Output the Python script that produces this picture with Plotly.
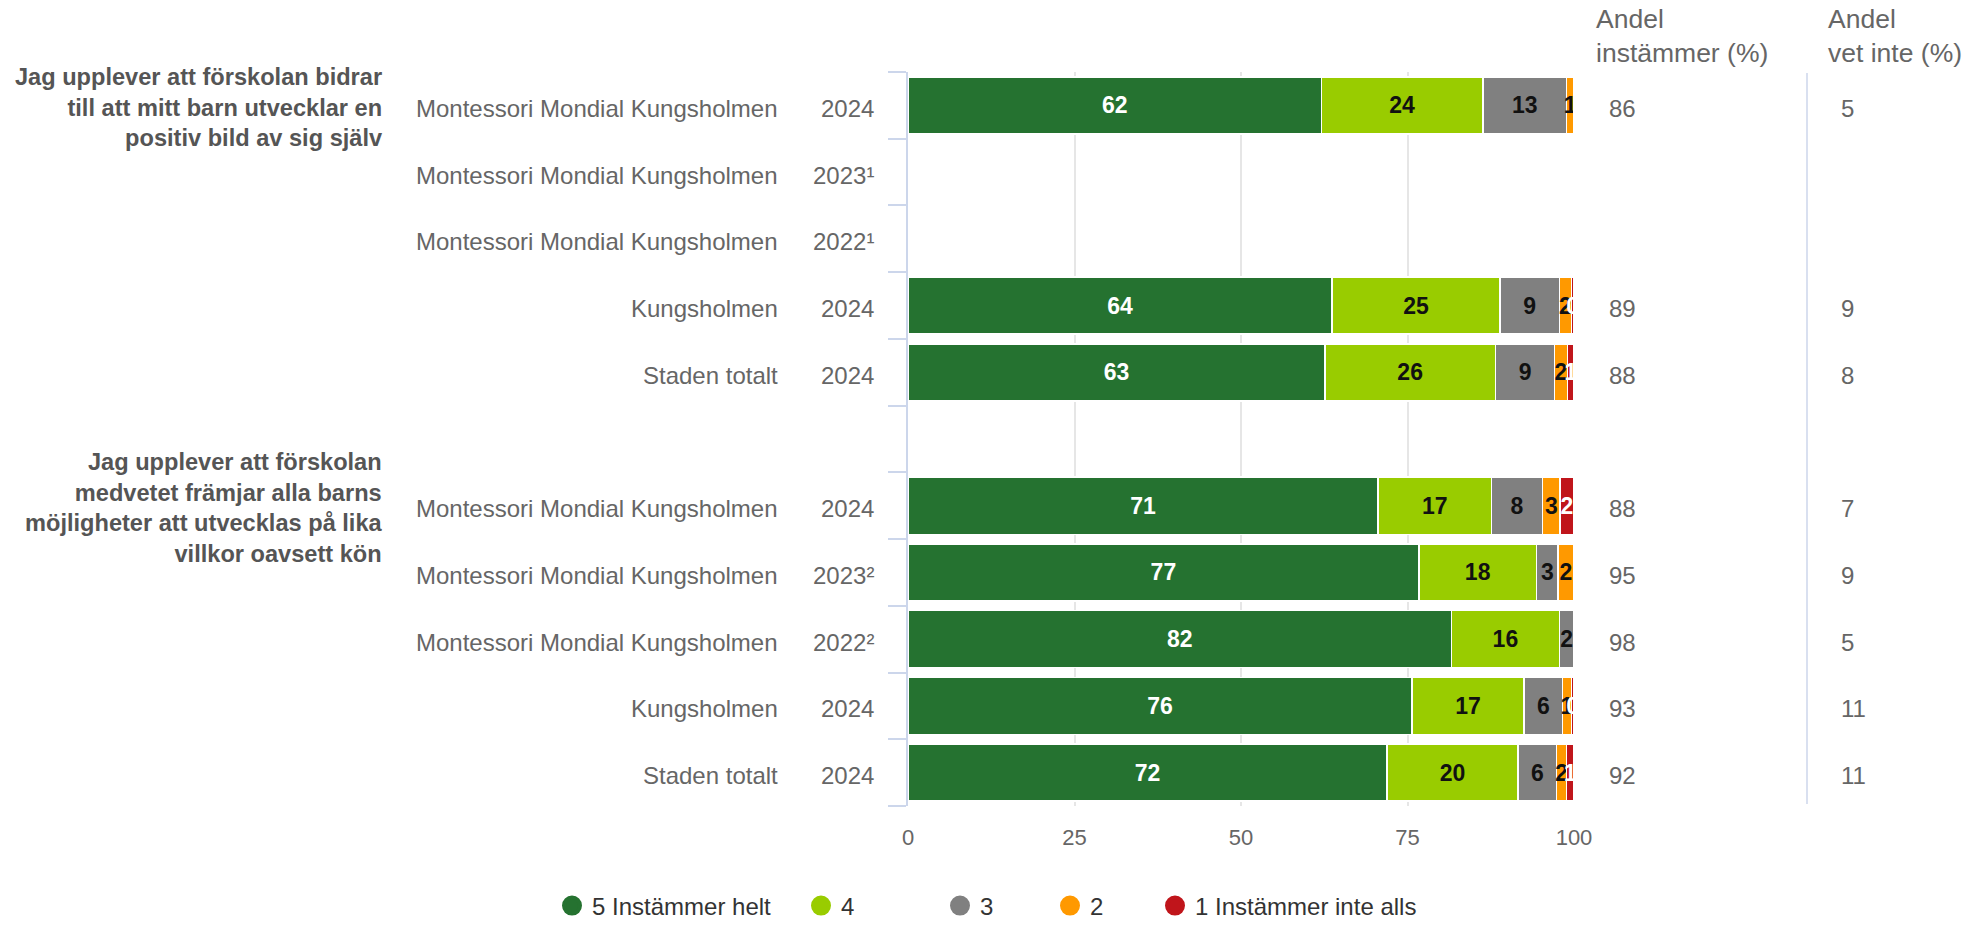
import plotly.graph_objects as go

# ---- data ----
row_names = ["Montessori Mondial Kungsholmen", "Montessori Mondial Kungsholmen",
             "Montessori Mondial Kungsholmen", "Kungsholmen", "Staden totalt", "",
             "Montessori Mondial Kungsholmen", "Montessori Mondial Kungsholmen",
             "Montessori Mondial Kungsholmen", "Kungsholmen", "Staden totalt"]
row_years = ["2024", "2023¹", "2022¹", "2024", "2024", "",
             "2024", "2023²", "2022²", "2024", "2024"]
group_labels = ["Jag upplever att förskolan bidrar<br>till att mitt barn utvecklar en<br>positiv bild av sig själv",
                "Jag upplever att förskolan<br>medvetet främjar alla barns<br>möjligheter att utvecklas på lika<br>villkor oavsett kön"]
group_rows = [0, 6]

series_names = ["5 Instämmer helt", "4", "3", "2", "1 Instämmer inte alls"]
v5 = [62.1, None, None, 63.7, 62.6, None, 70.6, 76.7, 81.6, 75.7, 71.9]
v4 = [24.2, None, None, 25.2, 25.6, None, 17.0, 17.7, 16.2, 16.8, 19.7]
v3 = [12.6, None, None, 8.9, 8.9, None, 7.7, 3.2, 2.2, 5.8, 5.8]
v2 = [1.1, None, None, 1.8, 1.9, None, 2.6, 2.4, 0.0, 1.3, 1.5]
v1 = [0.0, None, None, 0.4, 1.0, None, 2.1, 0.0, 0.0, 0.4, 1.1]

andel_instammer = [86, None, None, 89, 88, None, 88, 95, 98, 93, 92]
andel_vet_inte = [5, None, None, 9, 8, None, 7, 9, 5, 11, 11]

x_ticks = [0, 25, 50, 75, 100]

colors = ["#257230", "#99cc00", "#808080", "#ff9900", "#c0151b"]
label_colors = ["#ffffff", "#111111", "#111111", "#111111", "#ffffff"]
legend_px = [574, 823, 962, 1072, 1177]   # legend circle centres (layout)

FONT = "Arial, Liberation Sans, sans-serif"
W, H = 1970, 925
L, R, T, B = 908, 1574, 72, 806

def px_x(px):
    return (px - L) / (R - L)

def px_y(py):
    return (B - py) / (B - T)

rows = list(range(len(row_names)))
fig = go.Figure()

for name, vals, col, tcol in zip(series_names, [v5, v4, v3, v2, v1], colors, label_colors):
    fig.add_trace(go.Bar(
        y=rows, x=vals, orientation="h", name=name,
        marker=dict(color=col, line=dict(color="#ffffff", width=1.5)),
        texttemplate="%{x:.0f}", textposition="inside", insidetextanchor="middle",
        textangle=0, constraintext="none",
        textfont=dict(color=tcol, size=23, family=FONT, weight="bold"),
        showlegend=False, hoverinfo="skip",
    ))

legend_layouts = {}
for k, (name, col) in enumerate(zip(series_names, colors)):
    lg = "legend" if k == 0 else f"legend{k + 1}"
    fig.add_trace(go.Scatter(
        x=[None], y=[None], mode="markers", name=name, legend=lg,
        marker=dict(color=col, size=16, symbol="circle", line=dict(color=col, width=4)),
        showlegend=True, hoverinfo="skip",
    ))
    legend_layouts[lg] = dict(
        orientation="h", xref="container", yref="container",
        x=(legend_px[k] - 22) / W, xanchor="left", y=1 - 906 / H, yanchor="middle",
        font=dict(size=24, color="#333333", family=FONT), itemsizing="trace",
        bgcolor="rgba(0,0,0,0)", borderwidth=0)

ann = []
for i in rows:
    if row_names[i]:
        ann.append(dict(x=px_x(780), xref="paper", y=i, yref="y", text=row_names[i],
                        xanchor="right", yanchor="middle", showarrow=False, yshift=-3,
                        font=dict(size=24, color="#666666", family=FONT)))
        ann.append(dict(x=px_x(876), xref="paper", y=i, yref="y", text=row_years[i],
                        xanchor="right", yanchor="middle", showarrow=False, yshift=-3,
                        font=dict(size=24, color="#666666", family=FONT)))
    if andel_instammer[i] is not None:
        ann.append(dict(x=px_x(1607), xref="paper", y=i, yref="y", text=str(andel_instammer[i]),
                        xanchor="left", yanchor="middle", showarrow=False, yshift=-3,
                        font=dict(size=24, color="#666666", family=FONT)))
    if andel_vet_inte[i] is not None:
        ann.append(dict(x=px_x(1839), xref="paper", y=i, yref="y", text=str(andel_vet_inte[i]),
                        xanchor="left", yanchor="middle", showarrow=False, yshift=-3,
                        font=dict(size=24, color="#666666", family=FONT)))

for g, r in zip(group_labels, group_rows):
    ann.append(dict(x=px_x(385), xref="paper", y=r, yref="y", text=g, align="right",
                    xanchor="right", yanchor="middle", showarrow=False, yshift=-2,
                    font=dict(size=23.6, color="#555555", family=FONT, weight="bold")))

ann.append(dict(x=px_x(1594), xref="paper", y=px_y(70), yref="paper",
                text="Andel<br>instämmer (%)", align="left", xanchor="left", yanchor="bottom",
                showarrow=False, font=dict(size=26.5, color="#666666", family=FONT)))
ann.append(dict(x=px_x(1826), xref="paper", y=px_y(70), yref="paper",
                text="Andel<br>vet inte (%)", align="left", xanchor="left", yanchor="bottom",
                showarrow=False, font=dict(size=26.5, color="#666666", family=FONT)))

fig.update_layout(
    width=W, height=H,
    margin=dict(l=L, r=W - R, t=T, b=H - B),
    paper_bgcolor="white", plot_bgcolor="white",
    barmode="stack", bargap=0.145,
    uniformtext=dict(minsize=23, mode="show"),
    font=dict(family=FONT, color="#666666"),
    annotations=ann,
    shapes=[dict(type="line", xref="paper", yref="paper", x0=px_x(1807), x1=px_x(1807),
                 y0=px_y(804), y1=px_y(73), line=dict(color="#ccd6eb", width=1.5))],
    xaxis=dict(range=[0, 100], tickvals=x_ticks, showgrid=True, gridcolor="#e6e6e6", gridwidth=1.5,
               zeroline=False, showline=False, ticks="", ticklabelstandoff=16, automargin=False,
               tickfont=dict(size=22, color="#666666", family=FONT), fixedrange=True),
    yaxis=dict(range=[10.5, -0.5], tickvals=[i - 0.5 for i in range(12)], showticklabels=False,
               ticks="outside", ticklen=18, tickcolor="#ccd6eb", tickwidth=1.5, automargin=False,
               showline=True, linecolor="#ccd6eb", linewidth=1.5, showgrid=False, zeroline=False,
               fixedrange=True),
    **legend_layouts,
)

fig.write_html("out.html", config={"displayModeBar": False},
               post_script="document.body.style.margin='0';document.body.style.overflow='hidden';")
